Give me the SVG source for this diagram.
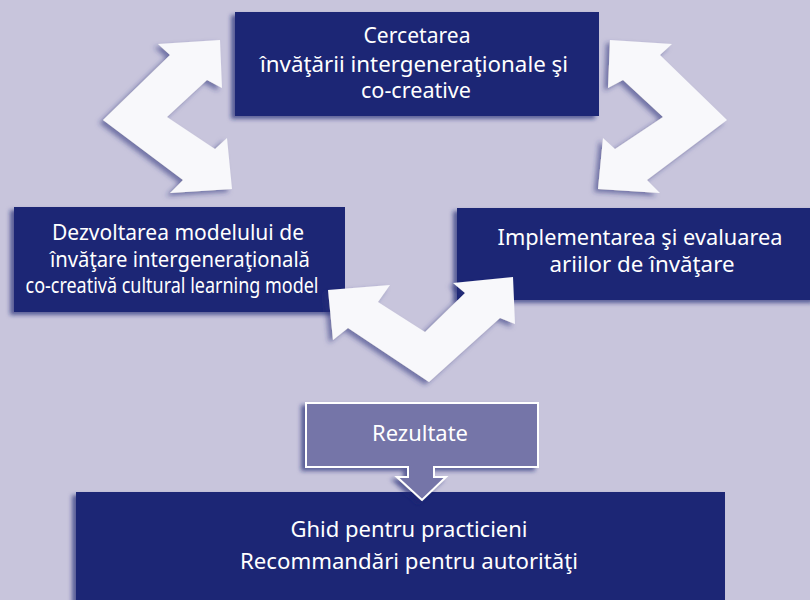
<svg xmlns="http://www.w3.org/2000/svg" width="810" height="600" viewBox="0 0 810 600">
<defs>
<filter id="sh" x="-20%" y="-20%" width="140%" height="140%">
<feDropShadow dx="-4" dy="3" stdDeviation="2.2" flood-color="#1a2472" flood-opacity="0.65"/>
</filter>
<filter id="sh2" x="-20%" y="-20%" width="140%" height="140%">
<feDropShadow dx="-4" dy="3" stdDeviation="2.5" flood-color="#2a2f7a" flood-opacity="0.55"/>
</filter>
</defs>
<style>
.box{fill:#1b2674;filter:url(#sh)}
.arr{fill:#f8f8fb;filter:url(#sh2)}
.t{font-family:"Noto Sans","Open Sans","DejaVu Sans",sans-serif;font-size:21px;fill:#ffffff;text-anchor:middle}
</style>
<rect width="810" height="600" fill="#c8c5dc"/>
<g id="node-top">
<rect class="box" x="235" y="12" width="364" height="104"/>
<text class="t" x="417" y="43" textLength="107" lengthAdjust="spacingAndGlyphs">Cercetarea</text>
<text class="t" x="414" y="72" textLength="308" lengthAdjust="spacingAndGlyphs">învăţării intergeneraţionale şi</text>
<text class="t" x="416" y="98" textLength="110" lengthAdjust="spacingAndGlyphs">co-creative</text>
</g>
<g id="node-left">
<rect class="box" x="14" y="207" width="331" height="105"/>
<text class="t" x="178" y="240" textLength="252" lengthAdjust="spacingAndGlyphs">Dezvoltarea modelului de</text>
<text class="t" x="180" y="267" textLength="260" lengthAdjust="spacingAndGlyphs">învăţare intergeneraţională</text>
<text class="t" x="172" y="293" textLength="293" lengthAdjust="spacingAndGlyphs">co-creativă cultural learning model</text>
</g>
<g id="node-right">
<rect class="box" x="457" y="208" width="360" height="92"/>
<text class="t" x="640" y="245" textLength="285" lengthAdjust="spacingAndGlyphs">Implementarea şi evaluarea</text>
<text class="t" x="642" y="272" textLength="185" lengthAdjust="spacingAndGlyphs">ariilor de învăţare</text>
</g>
<g id="node-bottom">
<rect class="box" x="76" y="492" width="649" height="115"/>
<text class="t" x="409" y="537" textLength="237" lengthAdjust="spacingAndGlyphs">Ghid pentru practicieni</text>
<text class="t" x="409" y="569" textLength="338" lengthAdjust="spacingAndGlyphs">Recommandări pentru autorităţi</text>
</g>
<g id="connectors">
<polygon class="arr" points="220,40 158,44 170,55 103,120 183,180 170,193 232,189 227,138 215,149 167,117 207,80 222,88"/>
<polygon class="arr" points="610,40 672,44 660,55 727,120 647,180 660,193 598,189 603,138 615,149 663,117 623,80 608,88"/>
<polygon class="arr" points="328,290 390,285 378,302 425,332 465,293 453,283 513,277 515,324 500,318 429,382 348,328 333,340"/>
</g>
<g id="node-rezultate">
<polygon points="306,403 538,403 538,467 434,467 434,477 446,477 422,500 397,477 408,477 408,467 306,467" fill="#7474a8" stroke="#ffffff" stroke-width="2" filter="url(#sh)"/>
<text class="t" x="420" y="441" textLength="96" lengthAdjust="spacingAndGlyphs" font-size="20">Rezultate</text>
</g>
</svg>
